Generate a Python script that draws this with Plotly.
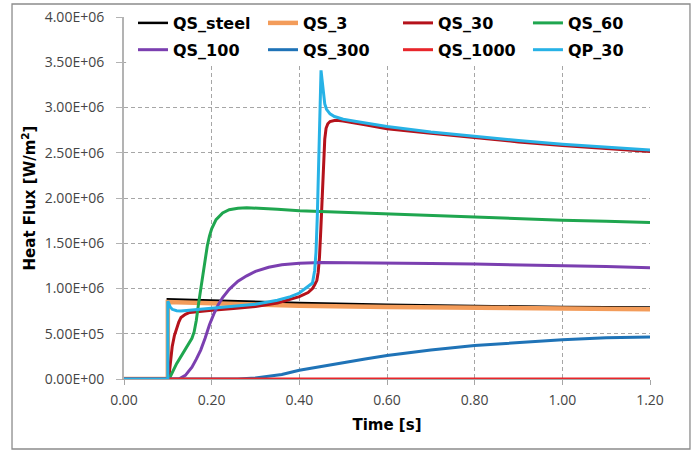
import numpy as np
import plotly.graph_objects as go

# Heat flux histories (values in 1e6 W/m^2), each series with its own time base [s]
t_steel = [0, 0.1, 0.1, 0.2, 0.3, 0.4, 0.6, 0.8, 1.0, 1.2]
q_steel = [0, 0, 0.88, 0.865, 0.85, 0.84, 0.82, 0.805, 0.795, 0.79]

t_qs3 = [0, 0.1, 0.1, 0.2, 0.3, 0.4, 0.6, 0.8, 1.0, 1.2]
q_qs3 = [0, 0, 0.85, 0.835, 0.82, 0.81, 0.795, 0.785, 0.775, 0.77]

t_qs30 = [0, 0.1, 0.103, 0.106, 0.11, 0.115, 0.12, 0.125, 0.13, 0.14, 0.15, 0.175,
          0.2, 0.25, 0.3, 0.35, 0.38, 0.4, 0.42, 0.43, 0.435, 0.44, 0.443, 0.446,
          0.449, 0.452, 0.455, 0.458, 0.461, 0.465, 0.47, 0.48, 0.49, 0.5, 0.55,
          0.6, 0.7, 0.8, 0.9, 1.0, 1.1, 1.2]
q_qs30 = [0, 0, 0.05, 0.2, 0.36, 0.48, 0.57, 0.63, 0.68, 0.715, 0.735, 0.75,
          0.76, 0.78, 0.8, 0.84, 0.885, 0.91, 0.955, 1.0, 1.04, 1.09, 1.18, 1.35,
          1.65, 2.0, 2.4, 2.65, 2.77, 2.82, 2.845, 2.855, 2.855, 2.85, 2.81,
          2.765, 2.715, 2.665, 2.62, 2.58, 2.545, 2.515]

t_qs60 = [0, 0.103, 0.12, 0.135, 0.145, 0.155, 0.16, 0.165, 0.17, 0.175, 0.18,
          0.185, 0.19, 0.195, 0.2, 0.21, 0.225, 0.24, 0.26, 0.28, 0.3, 0.35, 0.4,
          0.5, 0.6, 0.7, 0.8, 0.9, 1.0, 1.1, 1.2]
q_qs60 = [0, 0, 0.17, 0.29, 0.36, 0.45, 0.52, 0.65, 0.83, 1.0, 1.17,
          1.33, 1.47, 1.58, 1.66, 1.76, 1.835, 1.87, 1.886, 1.892, 1.89, 1.877, 1.86,
          1.842, 1.822, 1.805, 1.79, 1.772, 1.755, 1.742, 1.73]

t_qs100 = [0, 0.125, 0.14, 0.155, 0.165, 0.175, 0.185, 0.195, 0.205, 0.215, 0.225,
           0.24, 0.26, 0.28, 0.3, 0.33, 0.36, 0.4, 0.45, 0.5, 0.6, 0.7, 0.8, 0.9,
           1.0, 1.1, 1.2]
q_qs100 = [0, 0, 0.04, 0.13, 0.22, 0.32, 0.45, 0.6, 0.72, 0.82, 0.9,
           0.99, 1.08, 1.14, 1.19, 1.235, 1.262, 1.28, 1.288, 1.287, 1.28, 1.275, 1.27, 1.262,
           1.255, 1.243, 1.23]

t_qs300 = [0, 0.26, 0.3, 0.32, 0.36, 0.4, 0.45, 0.5, 0.55, 0.6, 0.7, 0.8, 0.9, 1.0, 1.1, 1.2]
q_qs300 = [0, 0, 0.012, 0.022, 0.05, 0.097, 0.14, 0.18, 0.22, 0.26, 0.32, 0.37, 0.405, 0.435, 0.455, 0.465]

t_qs1000 = [0, 1.2]
q_qs1000 = [0, 0]

t_qp30 = [0, 0.1, 0.1, 0.105, 0.11, 0.12, 0.13, 0.15, 0.2, 0.25, 0.3, 0.35, 0.38,
          0.4, 0.42, 0.43, 0.435, 0.438, 0.441, 0.444, 0.447, 0.4495, 0.452, 0.455,
          0.458, 0.462, 0.47, 0.48, 0.5, 0.53, 0.6, 0.7, 0.8, 0.9, 1.0, 1.1, 1.2]
q_qp30 = [0, 0, 0.86, 0.8, 0.77, 0.755, 0.752, 0.76, 0.78, 0.8, 0.825, 0.87, 0.91,
          0.95, 1.02, 1.06, 1.2, 1.4, 1.8, 2.45, 3.05, 3.41, 3.3, 3.12,
          3.04, 2.98, 2.93, 2.9, 2.87, 2.845, 2.79, 2.73, 2.68, 2.635, 2.595, 2.56, 2.53]

series = [
    ("QS_steel", t_steel, q_steel, "#000000", 2.5, "legend"),
    ("QS_3", t_qs3, q_qs3, "#f39c5a", 4.5, "legend2"),
    ("QS_30", t_qs30, q_qs30, "#b5121b", 3.0, "legend3"),
    ("QS_60", t_qs60, q_qs60, "#1fa64f", 3.0, "legend4"),
    ("QS_100", t_qs100, q_qs100, "#7b3fb0", 3.0, "legend"),
    ("QS_300", t_qs300, q_qs300, "#1f73b7", 3.0, "legend2"),
    ("QS_1000", t_qs1000, q_qs1000, "#e8262b", 3.0, "legend3"),
    ("QP_30", t_qp30, q_qp30, "#27b2e6", 3.0, "legend4"),
]

x_ticks = [0, 0.2, 0.4, 0.6, 0.8, 1.0, 1.2]
x_ticktext = ["0.00", "0.20", "0.40", "0.60", "0.80", "1.00", "1.20"]
y_ticks = [0, 0.5e6, 1.0e6, 1.5e6, 2.0e6, 2.5e6, 3.0e6, 3.5e6, 4.0e6]
y_ticktext = ["0.00E+00", "5.00E+05", "1.00E+06", "1.50E+06", "2.00E+06",
              "2.50E+06", "3.00E+06", "3.50E+06", "4.00E+06"]

fig = go.Figure()
for name, t, q, color, width, leg in series:
    fig.add_trace(go.Scatter(
        x=t, y=np.array(q) * 1e6, mode="lines", name=name,
        line=dict(color=color, width=width),
        legend=leg, legendgroup=name,
    ))

grid_col = "#a6a6a6"
tick_font = dict(family="Open Sans", size=14, color="#454545")
title_font = dict(family="DejaVu Sans", size=15, color="#000000", weight="bold")
legend_font = dict(family="DejaVu Sans", size=16, color="#000000", weight="bold")

fig.update_xaxes(
    range=[0, 1.2], tickvals=x_ticks, ticktext=x_ticktext,
    showgrid=True, gridcolor=grid_col, griddash="4px,3px", gridwidth=1,
    zeroline=False, showline=True, linecolor=grid_col, linewidth=1,
    ticks="outside", ticklen=5, tickcolor=grid_col,
    tickfont=tick_font, ticklabelstandoff=3,
    title=dict(text="Time [s]", font=title_font, standoff=11),
)
fig.update_yaxes(
    range=[0, 4.0e6], tickvals=y_ticks, ticktext=y_ticktext,
    showgrid=True, gridcolor=grid_col, griddash="4px,3px", gridwidth=1,
    zeroline=False, showline=True, linecolor="#b3b3b3", linewidth=2,
    ticks="outside", ticklen=6, tickcolor="#b3b3b3",
    tickfont=tick_font, ticklabelstandoff=9,
    title=dict(text="Heat Flux [W/m<sup>2</sup>]", font=title_font, standoff=5),
)

legend_common = dict(
    xanchor="left", yanchor="top", y=1.0304, bgcolor="rgba(0,0,0,0)",
    font=legend_font, traceorder="grouped", tracegroupgap=3, borderwidth=0,
)
legend_x = [0.0171, 0.2643, 0.5209, 0.768]

fig.update_layout(
    width=696, height=451,
    margin=dict(l=124, r=46, t=17, b=72, autoexpand=False),
    paper_bgcolor="white", plot_bgcolor="white",
    legend=dict(x=legend_x[0], **legend_common),
    legend2=dict(x=legend_x[1], **legend_common),
    legend3=dict(x=legend_x[2], **legend_common),
    legend4=dict(x=legend_x[3], **legend_common),
    shapes=[
        # white band behind the legend rows, hiding the grid there
        dict(type="rect", layer="above", xref="x domain", yref="y",
             x0=0.004, x1=1.01, y0=3.47e6, y1=4.1e6,
             fillcolor="white", line=dict(width=0)),
        # chart area frame
        dict(type="rect", layer="above", xref="paper", yref="paper",
             x0=-0.2129, x1=1.076, y0=-0.1934, y1=1.0359,
             line=dict(color="#8c8c8c", width=1.3), fillcolor="rgba(0,0,0,0)"),
    ],
)

fig.write_html("out.html")
